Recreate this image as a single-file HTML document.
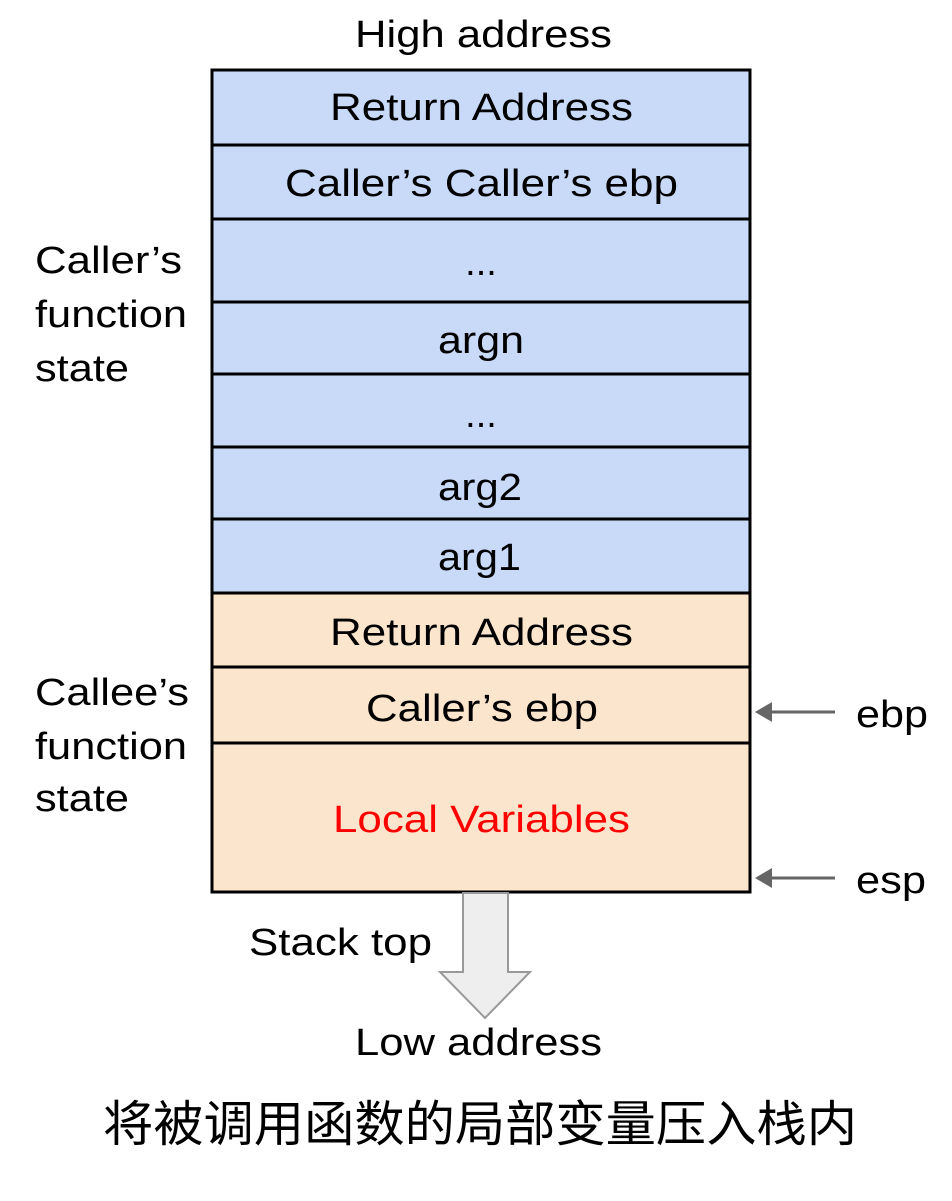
<!DOCTYPE html>
<html><head><meta charset="utf-8"><style>
html,body{margin:0;padding:0;background:#fff;}
svg text{font-family:"Liberation Sans",Arial,sans-serif;font-size:38px;fill:#000;}
</style></head><body>
<svg width="952" height="1196" viewBox="0 0 952 1196" xmlns="http://www.w3.org/2000/svg">
<rect x="0" y="0" width="952" height="1196" fill="#fff"/>
<text x="355" y="47" textLength="257" lengthAdjust="spacingAndGlyphs">High address</text>
<rect x="212" y="70" width="538" height="523" fill="#c9daf8"/>
<rect x="212" y="593" width="538" height="299" fill="#fce5cd"/>
<g stroke="#000" stroke-width="3" fill="none">
<rect x="212" y="70" width="538" height="822"/>
<line x1="212" y1="145" x2="750" y2="145"/>
<line x1="212" y1="219" x2="750" y2="219"/>
<line x1="212" y1="302" x2="750" y2="302"/>
<line x1="212" y1="374" x2="750" y2="374"/>
<line x1="212" y1="447" x2="750" y2="447"/>
<line x1="212" y1="519" x2="750" y2="519"/>
<line x1="212" y1="593" x2="750" y2="593"/>
<line x1="212" y1="667" x2="750" y2="667"/>
<line x1="212" y1="743" x2="750" y2="743"/>
</g>
<text x="330" y="120" textLength="303" lengthAdjust="spacingAndGlyphs">Return Address</text>
<text x="285" y="196" textLength="393" lengthAdjust="spacingAndGlyphs">Caller’s Caller’s ebp</text>
<text x="481" y="275" text-anchor="middle">...</text>
<text x="438" y="353" textLength="86" lengthAdjust="spacingAndGlyphs">argn</text>
<text x="481" y="427" text-anchor="middle">...</text>
<text x="438" y="500" textLength="84" lengthAdjust="spacingAndGlyphs">arg2</text>
<text x="438" y="570" textLength="83" lengthAdjust="spacingAndGlyphs">arg1</text>
<text x="330" y="645" textLength="303" lengthAdjust="spacingAndGlyphs">Return Address</text>
<text x="366" y="721" textLength="232" lengthAdjust="spacingAndGlyphs">Caller’s ebp</text>
<text x="333" y="832" textLength="297" lengthAdjust="spacingAndGlyphs" style="fill:#ff0000">Local Variables</text>
<text x="35" y="273" textLength="147" lengthAdjust="spacingAndGlyphs">Caller’s</text>
<text x="35" y="327" textLength="152" lengthAdjust="spacingAndGlyphs">function</text>
<text x="35" y="381" textLength="94" lengthAdjust="spacingAndGlyphs">state</text>
<text x="35" y="705" textLength="154" lengthAdjust="spacingAndGlyphs">Callee’s</text>
<text x="35" y="759" textLength="152" lengthAdjust="spacingAndGlyphs">function</text>
<text x="35" y="811" textLength="94" lengthAdjust="spacingAndGlyphs">state</text>
<g stroke="#666" stroke-width="3" fill="#666">
<line x1="835" y1="712" x2="768" y2="712"/>
<polygon points="755,712 772,702 772,722" stroke="none"/>
<line x1="835" y1="878" x2="768" y2="878"/>
<polygon points="755,878 772,868 772,888" stroke="none"/>
</g>
<text x="856" y="727" textLength="72" lengthAdjust="spacingAndGlyphs">ebp</text>
<text x="856" y="893" textLength="70" lengthAdjust="spacingAndGlyphs">esp</text>
<polygon points="463,893 508,893 508,972 530,972 485,1018 440,972 463,972" fill="#eeeeee" stroke="#999" stroke-width="2"/>
<text x="249" y="955" textLength="183" lengthAdjust="spacingAndGlyphs">Stack top</text>
<text x="355" y="1055" textLength="247" lengthAdjust="spacingAndGlyphs">Low address</text>
<text x="103" y="1141" textLength="754" lengthAdjust="spacingAndGlyphs" style="font-family:'Liberation Sans','Noto Sans CJK SC',sans-serif;font-size:49px">将被调用函数的局部变量压入栈内</text>
</svg>
</body></html>
